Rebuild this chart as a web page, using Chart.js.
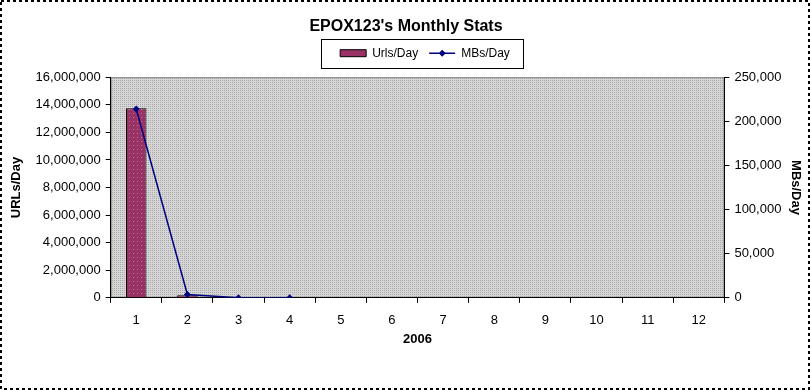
<!DOCTYPE html>
<html>
<head>
<meta charset="utf-8">
<script src="https://cdn.jsdelivr.net/npm/chart.js@4/dist/chart.umd.min.js"></script>
<style>
html,body{margin:0;padding:0;background:#fff;}
#wrap{width:810px;height:390px;position:relative;}
</style>
</head>
<body>
<div id="wrap"><canvas id="c" width="810" height="390"></canvas></div>
<script>
const titleText = "EPOX123's Monthly Stats";
const categories = ["1","2","3","4","5","6","7","8","9","10","11","12"];
const urlsPerDay = [13750000, 190000, 0, 0, null, null, null, null, null, null, null, null];
const mbsPerDay = [214000, 3700, 100, 100, null, null, null, null, null, null, null, null];
const seriesNames = ["Urls/Day", "MBs/Day"];
const xTitle = "2006";
const yLeftTitle = "URLs/Day";
const yRightTitle = "MBs/Day";

const FONT = "'Liberation Sans', Arial, sans-serif";
const LEGEND_SHIFT = 19;

const ctx0 = document.getElementById('c').getContext('2d');
const plotPattern = (function(){
  const p = document.createElement('canvas');
  p.width = 2; p.height = 2;
  const g = p.getContext('2d');
  g.fillStyle = '#d6d6d6'; g.fillRect(0,0,2,2);
  g.fillStyle = '#a8a8a8'; g.fillRect(0,0,1,1);
  return ctx0.createPattern(p, 'repeat');
})();
const barPattern = (function(){
  const p = document.createElement('canvas');
  p.width = 4; p.height = 4;
  const g = p.getContext('2d');
  g.fillStyle = '#993366'; g.fillRect(0,0,4,4);
  g.fillStyle = '#c0709a'; g.fillRect(1,1,1,1);
  return ctx0.createPattern(p, 'repeat');
})();

const decor = {
  id: 'decor',
  beforeLayout(chart) {
    const lg = chart.legend;
    if (lg && !lg._extraPatched) {
      const f = lg.fit.bind(lg);
      lg.fit = function() { f(); this.height += 8; };
      const d = lg.draw.bind(lg);
      lg.draw = function() {
        this.left += LEGEND_SHIFT; this.right += LEGEND_SHIFT;
        d();
        this.left -= LEGEND_SHIFT; this.right -= LEGEND_SHIFT;
      };
      lg._extraPatched = true;
    }
  },
  beforeDraw(chart) {
    const {ctx, chartArea: a} = chart;
    ctx.save();
    ctx.fillStyle = plotPattern;
    ctx.fillRect(a.left, a.top, a.right - a.left, a.bottom - a.top);
    ctx.strokeStyle = '#808080';
    ctx.lineWidth = 1;
    ctx.strokeRect(a.left + 0.5, a.top + 0.5, a.right - a.left - 1, a.bottom - a.top - 1);
    ctx.restore();
  },
  afterDraw(chart) {
    const ctx = chart.ctx;
    ctx.save();
    ctx.strokeStyle = '#000';
    ctx.lineWidth = 2;
    ctx.setLineDash([3, 3]);
    ctx.strokeRect(1, 1, chart.width - 2, chart.height - 2);
    ctx.setLineDash([]);
    const lg = chart.legend;
    if (lg && lg.legendHitBoxes && lg.legendHitBoxes.length) {
      const hb = lg.legendHitBoxes;
      const last = hb[hb.length - 1];
      const l = hb[0].left - 19 + LEGEND_SHIFT, r = last.left + last.width + 13 + LEGEND_SHIFT;
      const t = hb[0].top - 8.5, b = hb[0].top + hb[0].height + 8.5;
      ctx.strokeStyle = '#000';
      ctx.lineWidth = 1;
      ctx.strokeRect(Math.round(l) + 0.5, Math.round(t) + 0.5, Math.round(r - l), Math.round(b - t));
      const h = hb[1];
      const cx = h.left + 13 + LEGEND_SHIFT, cy = h.top + h.height / 2;
      ctx.fillStyle = '#000080';
      ctx.beginPath();
      ctx.moveTo(cx, cy - 3.5); ctx.lineTo(cx + 3.5, cy); ctx.lineTo(cx, cy + 3.5); ctx.lineTo(cx - 3.5, cy);
      ctx.closePath(); ctx.fill();
    }
    ctx.restore();
  }
};

new Chart(document.getElementById('c'), {
  data: {
    labels: categories,
    datasets: [
      {
        type: 'line',
        label: seriesNames[1],
        data: mbsPerDay,
        yAxisID: 'y1',
        borderColor: '#000080',
        backgroundColor: '#000080',
        borderWidth: 1.5,
        pointStyle: 'rectRot',
        pointRadius: 3.5,
        pointBorderWidth: 0,
        pointBackgroundColor: '#000080',
        tension: 0,
        spanGaps: false,
        order: 0
      },
      {
        type: 'bar',
        label: seriesNames[0],
        data: urlsPerDay,
        yAxisID: 'y',
        backgroundColor: barPattern,
        borderColor: '#000000',
        borderWidth: 1,
        categoryPercentage: 0.8,
        barPercentage: 0.5,
        order: 1
      }
    ]
  },
  options: {
    responsive: false,
    animation: false,
    devicePixelRatio: 1,
    layout: { padding: { left: 5, right: 3, top: 0, bottom: 43 } },
    plugins: {
      title: {
        display: true,
        text: titleText,
        color: '#000',
        font: { family: FONT, size: 16, weight: 'bold' },
        padding: { top: 17, bottom: 0 }
      },
      legend: {
        display: true,
        labels: {
          color: '#000',
          font: { family: FONT, size: 12 },
          usePointStyle: true,
          pointStyleWidth: 26,
          boxHeight: 7,
          padding: 11,
          generateLabels(chart) {
            return [
              { text: seriesNames[0], fillStyle: '#993366', strokeStyle: '#000', lineWidth: 1, pointStyle: 'rect', datasetIndex: 1, hidden: false },
              { text: seriesNames[1], fillStyle: '#000080', strokeStyle: '#000080', lineWidth: 1.5, pointStyle: 'line', datasetIndex: 0, hidden: false }
            ];
          }
        }
      },
      tooltip: { enabled: false }
    },
    scales: {
      x: {
        offset: true,
        grid: { display: true, offset: true, drawOnChartArea: false, drawTicks: true, tickLength: 5, color: '#000' },
        border: { display: true, color: '#000' },
        ticks: { color: '#000', font: { family: FONT, size: 13 }, padding: 9.5, maxRotation: 0 },
        title: { display: true, text: xTitle, color: '#000', font: { family: FONT, size: 13, weight: 'bold' }, padding: { top: -6, bottom: 0 } }
      },
      y: {
        position: 'left',
        min: 0, max: 16000000,
        ticks: { stepSize: 2000000, color: '#000', font: { family: FONT, size: 13 }, padding: 5,
          callback: v => v.toLocaleString('en-US') },
        grid: { drawOnChartArea: false, drawTicks: true, tickLength: 5, color: '#000' },
        border: { display: true, color: '#000' },
        title: { display: true, text: yLeftTitle, color: '#000', font: { family: FONT, size: 13, weight: 'bold' }, padding: { top: 4, bottom: 6 } }
      },
      y1: {
        position: 'right',
        min: 0, max: 250000,
        ticks: { stepSize: 50000, color: '#000', font: { family: FONT, size: 13 }, padding: 5,
          callback: v => v.toLocaleString('en-US') },
        grid: { drawOnChartArea: false, drawTicks: true, tickLength: 5, color: '#000' },
        border: { display: true, color: '#000' },
        title: { display: true, text: yRightTitle, color: '#000', font: { family: FONT, size: 13, weight: 'bold' }, padding: { top: 4, bottom: 1 } }
      }
    }
  },
  plugins: [decor]
});
</script>
</body>
</html>
